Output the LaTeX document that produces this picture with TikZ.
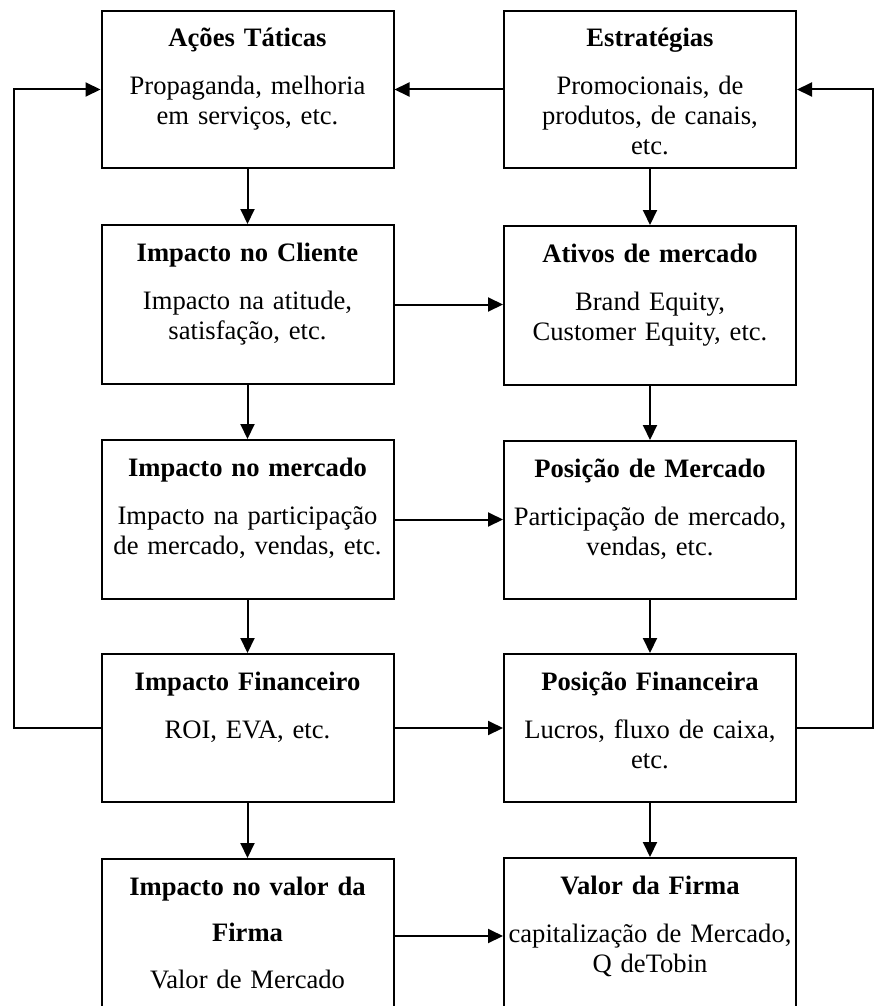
\documentclass[tikz,border=0pt]{standalone}
\usepackage{fontspec}
\setmainfont{Liberation Serif}
\usetikzlibrary{arrows.meta}

\tikzset{
    blk/.style={draw, line width=1pt, anchor=north, text width=146pt, inner sep=0pt,
        text height=18pt, align=center, font=\fontsize{13.3}{15}\selectfont},
    arr/.style={line width=1pt, -{Triangle[length=7.5pt,width=7pt]}},
}

\begin{document}
\begin{tikzpicture}[x=0.5pt, y=-0.5pt]

    \clip (0, 0) rectangle (874, 1006);

    % left column
    \node[blk, text depth=60.5pt] (acoes) at (247.5, 10)
        {\textbf{Ações Táticas}\\[9pt]Propaganda, melhoria\\em serviços, etc.};
    \node[blk, text depth=61.5pt] (cli) at (247.5, 224)
        {\textbf{Impacto no Cliente}\\[9pt]Impacto na atitude,\\satisfação, etc.};
    \node[blk, text depth=61.5pt] (imerc) at (247.5, 439)
        {\textbf{Impacto no mercado}\\[9pt]Impacto na participação\\de mercado, vendas, etc.};
    \node[blk, text depth=56pt] (ifin) at (247.5, 653)
        {\textbf{Impacto Financeiro}\\[9pt]ROI, EVA, etc.};
    \node[blk, text depth=59pt] (ival) at (247.5, 858)
        {\textbf{Impacto no valor da}\\[8pt]\textbf{Firma}\\[8.5pt]Valor de Mercado};

    % right column
    \node[blk, text depth=60.5pt] (est) at (650, 10)
        {\textbf{Estratégias}\\[9pt]Promocionais, de\\produtos, de canais,\\etc.};
    \node[blk, text depth=61.5pt] (ativ) at (650, 225)
        {\textbf{Ativos de mercado}\\[9pt]Brand Equity,\\Customer Equity, etc.};
    \node[blk, text depth=61pt] (pmerc) at (650, 440)
        {\textbf{Posição de Mercado}\\[9pt]Participação de mercado,\\vendas, etc.};
    \node[blk, text depth=56pt] (pfin) at (650, 653)
        {\textbf{Posição Financeira}\\[9pt]Lucros, fluxo de caixa,\\etc.};
    \node[blk, text depth=59pt] (vfirma) at (650, 857)
        {\textbf{Valor da Firma}\\[9pt]capitalização de Mercado,\\Q deTobin};

    % down arrows
    \draw[arr] (acoes) -- (cli);
    \draw[arr] (cli) -- (imerc);
    \draw[arr] (imerc) -- (ifin);
    \draw[arr] (ifin) -- (ival);
    \draw[arr] (est) -- (ativ);
    \draw[arr] (ativ) -- (pmerc);
    \draw[arr] (pmerc) -- (pfin);
    \draw[arr] (pfin) -- (vfirma);

    % across
    \draw[arr] (est.west) -- (acoes.east);
    \draw[arr] (cli.east) -- (cli.east -| ativ.west);
    \draw[arr] (imerc.east) -- (imerc.east -| pmerc.west);
    \draw[arr] (ifin.east) -- (ifin.east -| pfin.west);
    \draw[arr] (ival.east) -- (ival.east -| vfirma.west);

    % feedback loops
    \draw[arr] (ifin.west) -- ++(-87, 0) |- (acoes.west);
    \draw[arr] (pfin.east) -- ++(76, 0) |- (est.east);

\end{tikzpicture}
\end{document}
